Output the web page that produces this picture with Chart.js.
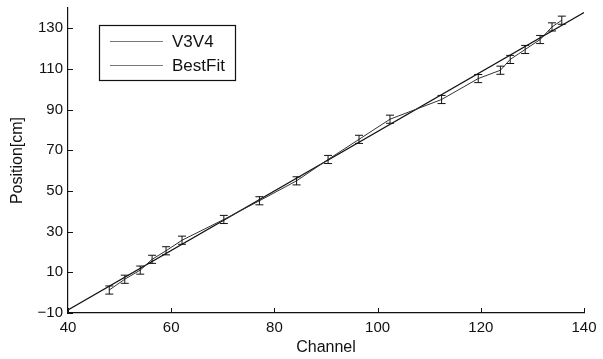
<!DOCTYPE html>
<html>
<head>
<meta charset="utf-8">
<script src="https://cdn.jsdelivr.net/npm/chart.js@4.4.0/dist/chart.umd.min.js"></script>
<style>
html, body { margin: 0; padding: 0; background: #fff; }
#wrap { width: 603px; height: 359px; }
</style>
</head>
<body>
<div id="wrap"><canvas id="canvas1" width="603" height="359"></canvas></div>
<script>
// measured channel -> position points, with their error bars
var channel  = [48, 51, 54, 56.3, 59, 62.1, 70.2, 77.1, 84.3, 90.4, 96.4, 102.4, 112.4, 119.5, 123.8, 125.7, 128.6, 131.5, 133.8, 135.7];
var position = [1.3, 6.6, 11.1, 16.4, 20.6, 25.8, 36.0, 45.2, 55.0, 65.5, 75.4, 85.3, 95.0, 105.3, 109.4, 114.7, 119.6, 124.5, 130.7, 134.0];
var posErr   = [2, 2, 2, 2, 2, 2, 2, 2, 2, 2, 2, 2, 2, 2, 2, 2, 2, 2, 2, 2];

// straight line fit, end points
var fitX = [40, 140];
var fitY = [-8.5, 137.8];

var xTicks = [40, 60, 80, 100, 120, 140];
var yTicks = [-10, 10, 30, 50, 70, 90, 110, 130];

var labels = ["V3V4", "BestFit"];

function toPoints(xs, ys) {
  return xs.map(function (x, i) { return {x: x, y: ys[i]}; });
}

// error bars with small caps
var errorBars = {
  id: "errorBars",
  afterDatasetsDraw: function (chart) {
    var ctx = chart.ctx, xs = chart.scales.x, ys = chart.scales.y;
    ctx.save();
    ctx.strokeStyle = "#111";
    ctx.lineWidth = 1;
    channel.forEach(function (c, i) {
      var px = xs.getPixelForValue(c);
      var top = ys.getPixelForValue(position[i] + posErr[i]);
      var bot = ys.getPixelForValue(position[i] - posErr[i]);
      ctx.beginPath();
      ctx.moveTo(px, top); ctx.lineTo(px, bot);
      ctx.moveTo(px - 4, top); ctx.lineTo(px + 4, top);
      ctx.moveTo(px - 4, bot); ctx.lineTo(px + 4, bot);
      ctx.stroke();
    });
    ctx.restore();
  }
};

// tick marks pointing into the plot
var innerTicks = {
  id: "innerTicks",
  afterDraw: function (chart) {
    var ctx = chart.ctx, xs = chart.scales.x, ys = chart.scales.y, a = chart.chartArea;
    ctx.save();
    ctx.strokeStyle = "#111";
    ctx.lineWidth = 1;
    ctx.beginPath();
    xTicks.forEach(function (v) {
      var px = Math.round(xs.getPixelForValue(v)) + 0.5;
      ctx.moveTo(px, a.bottom); ctx.lineTo(px, a.bottom - 5);
    });
    yTicks.forEach(function (v) {
      var py = Math.round(ys.getPixelForValue(v)) + 0.5;
      ctx.moveTo(a.left, py); ctx.lineTo(a.left + 5, py);
    });
    ctx.stroke();
    ctx.restore();
  }
};

// boxed legend in the upper left corner
var boxLegend = {
  id: "boxLegend",
  afterDraw: function (chart) {
    var ctx = chart.ctx;
    var x0 = 99, y0 = 25, w = 136, h = 55;
    ctx.save();
    ctx.fillStyle = "#fff";
    ctx.fillRect(x0, y0, w, h);
    ctx.strokeStyle = "#111";
    ctx.lineWidth = 1.2;
    ctx.strokeRect(x0 + 0.5, y0 + 0.5, w, h);
    ctx.font = "17px 'Liberation Sans', Arial, sans-serif";
    ctx.textBaseline = "middle";
    chart.data.datasets.forEach(function (ds, i) {
      var ly = y0 + 16 + i * 24;
      ctx.strokeStyle = "#777";
      ctx.lineWidth = 1;
      ctx.beginPath();
      ctx.moveTo(x0 + 11, ly + 0.5); ctx.lineTo(x0 + 64, ly + 0.5);
      ctx.stroke();
      ctx.fillStyle = "#111";
      ctx.fillText(ds.label, x0 + 73, ly + 1);
    });
    ctx.restore();
  }
};

new Chart(document.getElementById("canvas1"), {
  type: "scatter",
  data: {
    datasets: [{
      label: labels[0],
      data: toPoints(channel, position),
      showLine: true,
      borderColor: "#333",
      borderWidth: 1,
      pointRadius: 0,
      tension: 0
    }, {
      label: labels[1],
      data: toPoints(fitX, fitY),
      showLine: true,
      borderColor: "#111",
      borderWidth: 1.2,
      pointRadius: 0,
      tension: 0
    }]
  },
  options: {
    responsive: false,
    animation: false,
    layout: { padding: { top: 8, right: 19, left: 0, bottom: 0 } },
    plugins: { legend: { display: false }, tooltip: { enabled: false } },
    scales: {
      x: {
        type: "linear",
        min: 40, max: 140,
        afterBuildTicks: function (s) { s.ticks = xTicks.map(function (v) { return {value: v}; }); },
        afterFit: function (s) { s.height = 46; s.paddingLeft = 0; s.paddingRight = 0; },
        grid: { display: false, drawTicks: false },
        border: { display: true, color: "#111", width: 1.2 },
        ticks: { color: "#111", padding: 6, maxRotation: 0, font: { family: "'Liberation Sans', Arial", size: 15 } },
        title: { display: true, text: "Channel", color: "#111", padding: { top: 0, bottom: 2 }, font: { family: "'Liberation Sans', Arial", size: 16 } }
      },
      y: {
        type: "linear",
        min: -10, max: 140,
        afterBuildTicks: function (s) { s.ticks = yTicks.map(function (v) { return {value: v}; }); },
        afterFit: function (s) { s.width = 68; s.paddingTop = 0; s.paddingBottom = 0; },
        grid: { display: false, drawTicks: false },
        border: { display: true, color: "#111", width: 1.2 },
        ticks: {
          color: "#111", padding: 5,
          font: { family: "'Liberation Sans', Arial", size: 15 },
          callback: function (v) { return v < 0 ? "\u2212" + Math.abs(v) : v; }
        },
        title: { display: true, text: "Position[cm]", color: "#111", padding: { top: 8, bottom: 0 }, font: { family: "'Liberation Sans', Arial", size: 16 } }
      }
    }
  },
  plugins: [errorBars, innerTicks, boxLegend]
});
</script>
</body>
</html>
